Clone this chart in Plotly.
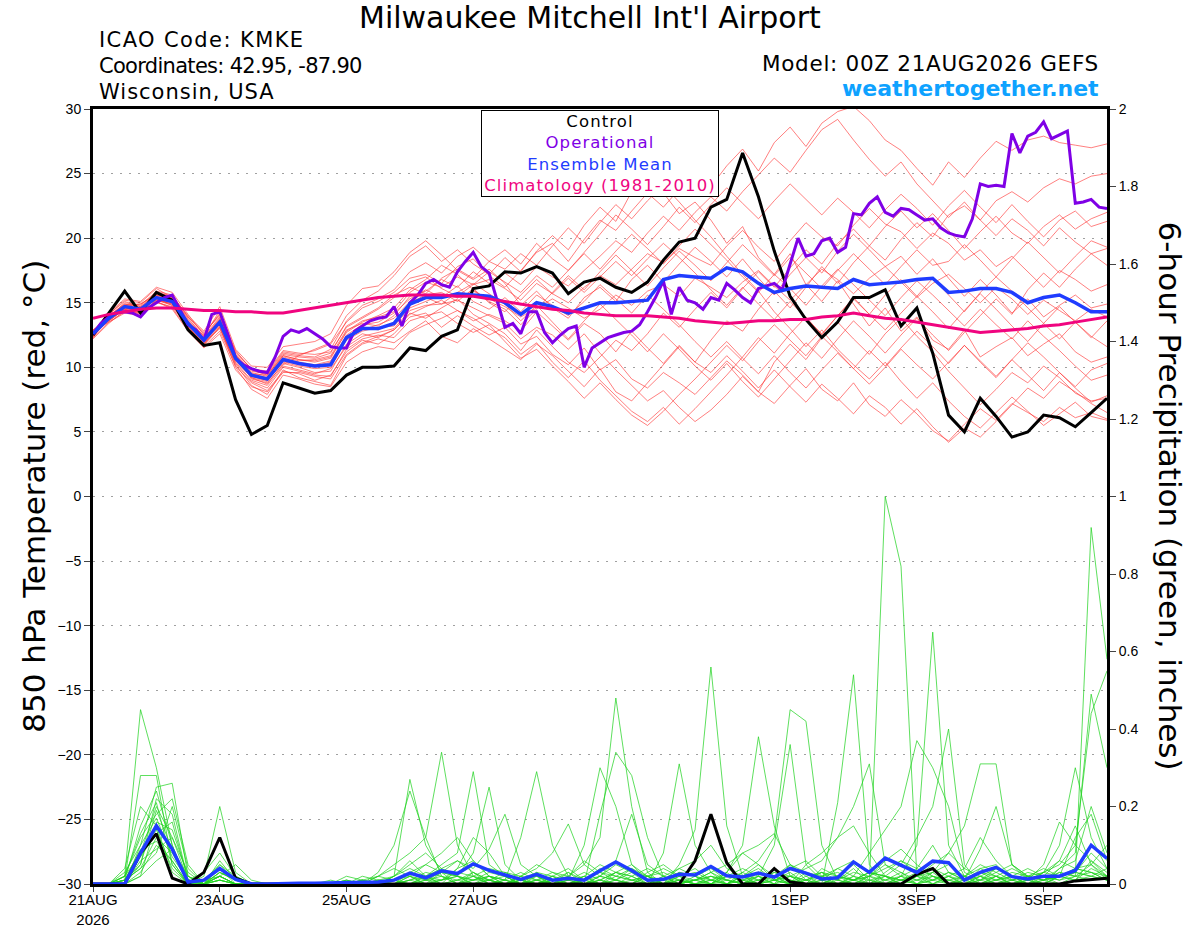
import plotly.graph_objects as go

# forecast hours (6-hourly ensemble, 3-hourly operational run)
hours = list(range(0, 385, 6))
hours_op = list(range(0, 385, 3))

tick_hours = [0, 48, 96, 144, 192, 264, 312, 360]
tick_text = ["21AUG<br>2026", "23AUG", "25AUG", "27AUG", "29AUG", "1SEP", "3SEP", "5SEP"]

# 850 hPa temperature (C)
t_control = [
    12.5, 14.2, 15.9, 14.2, 15.8, 15.2, 12.9, 11.7, 11.9, 7.5, 4.8, 5.5, 8.8,
    8.4, 8.0, 8.2, 9.4, 10.0, 10.0, 10.1, 11.5, 11.3, 12.4, 12.9, 16.1, 16.3,
    17.4, 17.3, 17.8, 17.3, 15.7, 16.6, 16.9, 16.2, 15.8, 16.6, 18.3, 19.7, 20.0,
    22.4, 23.0, 26.6, 23.2, 19.0, 15.5, 13.7, 12.3, 13.5, 15.4, 15.4, 16.0, 13.2,
    14.6, 11.1, 6.3, 5.0, 7.6, 6.2, 4.6, 5.0, 6.3, 6.1, 5.4, 6.5, 7.6,
]
t_operational = [
    12.6, 13.4, 13.9, 14.2, 14.3, 14.2, 13.9, 14.6, 15.0, 15.4,
    15.6, 14.4, 13.3, 12.9, 12.1, 14.1, 14.3, 12.6, 10.7, 10.2,
    9.9, 9.7, 9.6, 10.8, 12.4, 12.9, 12.7, 13.0, 12.6, 12.2,
    11.6, 11.5, 11.5, 12.8, 13.2, 13.6, 13.8, 13.9, 14.7, 13.2,
    15.0, 15.6, 16.5, 16.8, 16.4, 16.2, 17.4, 18.2, 18.9, 17.8,
    17.3, 15.2, 13.1, 13.4, 12.6, 14.3, 14.3, 12.7, 11.9, 12.5,
    13.0, 13.2, 10.0, 11.5, 11.9, 12.3, 12.5, 12.7, 12.8, 13.3,
    14.3, 15.4, 16.7, 14.1, 16.2, 15.2, 15.0, 14.5, 15.4, 15.2,
    16.5, 16.0, 15.4, 15.0, 16.1, 16.3, 16.5, 16.0, 18.0, 20.0,
    18.6, 18.8, 19.8, 20.0, 18.9, 19.3, 21.9, 21.8, 22.7, 23.2,
    22.0, 21.7, 22.3, 22.2, 21.8, 21.4, 21.5, 20.8, 20.4, 20.2,
    20.1, 21.5, 24.2, 24.0, 24.1, 24.0, 28.1, 26.6, 27.9, 28.2,
    29.0, 27.7, 28.0, 28.3, 22.7, 22.8, 23.0, 22.4, 22.3,
]
t_mean = [
    12.6, 13.8, 14.7, 14.5, 15.4, 15.1, 13.4, 12.1, 13.5, 10.7, 9.4, 9.1, 10.6,
    10.3, 10.1, 10.2, 12.3, 13.0, 13.0, 13.4, 14.9, 15.4, 15.4, 15.7, 15.6, 15.5,
    15.0, 14.1, 15.0, 14.7, 14.2, 14.6, 15.0, 15.0, 15.1, 15.2, 16.8, 17.1, 17.0,
    16.9, 17.7, 17.4, 16.5, 15.8, 16.1, 16.3, 16.2, 16.1, 16.8, 16.4, 16.5, 16.6,
    16.8, 16.9, 15.8, 15.9, 16.1, 16.1, 15.8, 15.0, 15.4, 15.6, 15.0, 14.3, 14.3,
]
t_climo = [
    13.8, 14.1, 14.3, 14.5, 14.6, 14.6, 14.5, 14.4, 14.4, 14.3, 14.3, 14.2, 14.2,
    14.4, 14.6, 14.8, 15.0, 15.2, 15.4, 15.5, 15.6, 15.6, 15.6, 15.5, 15.5, 15.3,
    15.1, 14.9, 14.7, 14.5, 14.4, 14.2, 14.1, 14.0, 14.0, 14.0, 13.9, 13.8, 13.6,
    13.5, 13.4, 13.5, 13.6, 13.6, 13.7, 13.7, 13.9, 14.0, 14.2, 14.0, 13.8, 13.7,
    13.5, 13.3, 13.1, 12.9, 12.7, 12.8, 12.9, 13.0, 13.2, 13.3, 13.5, 13.7, 13.9,
]

# ensemble members, 850 hPa temperature
t_mem01 = [
    12.4, 13.9, 15.0, 14.8, 15.9, 15.6, 13.9, 12.6, 14.1, 11.2, 9.9, 9.6, 11.2,
    11.0, 11.3, 11.8, 13.5, 14.6, 15.1, 15.8, 16.9, 17.2, 16.5, 17.8, 18.4, 17.1,
    16.2, 17.5, 18.9, 19.6, 18.2, 19.9, 21.4, 20.6, 22.1, 23.5, 22.4, 23.8, 25.1,
    24.0, 25.6, 26.9, 25.2, 27.4, 28.6, 27.1, 28.9, 29.8, 30.2, 29.1, 27.6, 26.8,
    25.4, 24.1, 25.9, 24.7, 26.2, 27.5, 26.8, 27.6, 27.9, 27.4, 27.2, 27.0, 27.3,
]
t_mem02 = [
    12.8, 13.5, 14.2, 14.0, 15.1, 14.6, 12.9, 11.6, 12.8, 10.1, 8.8, 8.2, 9.7,
    9.5, 9.0, 9.4, 11.2, 12.1, 11.8, 12.6, 13.9, 14.2, 13.1, 14.0, 13.2, 12.5,
    13.1, 11.8, 12.4, 11.0, 10.2, 11.5, 9.8, 10.6, 9.1, 8.4, 9.6, 8.8, 7.9,
    9.2, 10.5, 9.4, 8.1, 7.2, 8.6, 9.9, 8.3, 7.4, 8.8, 7.1, 6.2, 7.5,
    6.4, 5.1, 4.3, 5.6, 6.8, 5.9, 7.2, 6.5, 5.8, 6.9, 6.1, 6.5, 6.0,
]
t_mem03 = [
    12.3, 14.1, 15.2, 15.0, 16.1, 15.4, 13.8, 12.4, 14.4, 11.0, 9.1, 8.8, 10.2,
    10.9, 11.4, 11.9, 14.0, 15.2, 15.9, 17.1, 18.6, 19.4, 18.2, 19.1, 18.0, 17.2,
    18.5, 17.4, 19.0, 20.2, 19.1, 21.0, 22.4, 21.3, 23.6, 24.8, 23.5, 21.9, 22.8,
    21.4, 19.6, 20.9, 18.5, 17.2, 18.8, 16.4, 15.1, 16.7, 14.9, 13.2, 14.6, 12.8,
    13.9, 12.1, 11.4, 12.9, 10.8, 11.6, 12.3, 10.9, 11.8, 12.6, 11.2, 10.4, 10.8,
]
t_mem04 = [
    12.9, 13.6, 14.5, 14.1, 15.2, 14.9, 13.0, 11.8, 13.2, 10.2, 8.6, 7.9, 9.8,
    9.2, 8.9, 8.6, 10.9, 11.8, 12.2, 11.9, 12.8, 13.6, 12.4, 11.9, 13.0, 12.2,
    11.4, 10.6, 11.8, 10.9, 9.7, 8.5, 9.9, 8.1, 7.4, 8.8, 10.2, 11.6, 10.4,
    12.1, 13.6, 12.8, 14.5, 15.9, 14.6, 16.2, 17.8, 16.5, 18.1, 19.4, 18.3, 19.9,
    21.2, 20.1, 21.8, 22.5, 21.4, 22.9, 23.6, 22.8, 23.9, 24.6, 24.2, 24.8, 25.0,
]
t_mem05 = [
    12.6, 13.9, 14.9, 14.7, 15.6, 15.3, 13.6, 12.3, 13.8, 10.9, 9.6, 9.3, 10.9,
    10.6, 10.4, 10.7, 12.8, 13.6, 13.9, 14.3, 15.8, 16.6, 16.2, 17.0, 16.4, 16.8,
    16.1, 15.2, 16.5, 15.7, 15.0, 16.2, 17.1, 16.4, 17.6, 18.8, 18.1, 19.2, 18.5,
    17.9, 19.4, 20.6, 19.3, 18.2, 19.8, 21.2, 20.1, 19.4, 21.0, 22.3, 21.1, 20.5,
    19.2, 20.4, 19.6, 18.3, 19.1, 17.8, 18.6, 17.4, 16.2, 17.5, 16.8, 15.9, 16.4,
]
t_mem06 = [
    12.2, 13.4, 14.4, 14.3, 15.0, 14.7, 13.1, 11.9, 13.0, 10.4, 9.0, 8.6, 10.1,
    9.8, 9.5, 9.9, 11.6, 12.4, 12.7, 13.0, 14.4, 14.8, 14.9, 15.2, 14.6, 14.0,
    13.4, 12.2, 13.1, 12.5, 11.4, 12.6, 11.1, 9.8, 8.6, 7.4, 8.2, 6.9, 5.8,
    6.7, 7.9, 9.3, 8.1, 10.4, 11.8, 10.6, 12.3, 13.5, 12.2, 11.0, 12.6, 13.8,
    12.4, 11.2, 9.7, 8.4, 7.1, 8.3, 9.6, 8.8, 10.1, 9.2, 8.0, 7.4, 7.6,
]
t_mem07 = [
    12.5, 14.0, 14.8, 14.9, 15.7, 15.5, 14.0, 12.8, 14.7, 11.4, 10.1, 10.0, 11.6,
    11.8, 12.0, 12.6, 14.8, 16.1, 16.3, 17.4, 18.9, 19.8, 18.7, 17.5, 16.8, 17.6,
    16.5, 14.8, 15.9, 14.6, 13.8, 15.4, 16.2, 15.1, 16.8, 17.9, 16.6, 18.0, 19.3,
    18.2, 17.0, 18.4, 16.9, 15.6, 17.2, 18.5, 17.3, 19.0, 20.3, 19.1, 17.8, 18.6,
    17.2, 18.4, 16.9, 15.5, 16.8, 15.6, 14.2, 15.3, 13.9, 14.8, 15.6, 14.6, 14.9,
]
t_mem08 = [
    12.7, 13.7, 14.6, 14.4, 15.3, 14.8, 13.2, 11.7, 13.1, 10.0, 8.3, 7.6, 9.4,
    9.1, 8.7, 8.5, 10.4, 11.2, 11.6, 11.4, 12.7, 13.3, 13.8, 14.4, 13.6, 14.1,
    13.6, 12.8, 14.3, 13.2, 12.1, 13.4, 12.6, 11.2, 12.8, 11.5, 10.3, 11.7, 10.4,
    9.6, 10.9, 9.7, 8.4, 9.8, 8.5, 7.3, 8.7, 7.6, 6.4, 7.8, 6.9, 5.6,
    6.8, 5.4, 4.2, 5.3, 4.6, 5.8, 7.1, 8.4, 7.6, 8.9, 8.1, 7.2, 6.5,
]
t_mem09 = [
    12.4, 13.8, 14.6, 14.6, 15.5, 15.0, 13.3, 12.2, 13.6, 10.8, 9.5, 9.2, 10.8,
    10.5, 10.6, 10.9, 12.9, 13.4, 13.2, 14.0, 15.5, 15.9, 16.8, 16.2, 17.4, 16.5,
    17.3, 16.4, 17.8, 17.0, 16.3, 17.5, 18.6, 19.8, 18.9, 20.4, 21.7, 20.6, 22.0,
    23.2, 22.1, 23.6, 24.9, 26.2, 25.1, 26.8, 28.4, 29.2, 27.6, 26.1, 24.8, 25.9,
    24.2, 22.9, 21.6, 22.8, 21.4, 20.2, 21.5, 20.6, 19.4, 20.8, 19.7, 18.8, 19.2,
]
t_mem10 = [
    12.6, 13.7, 14.7, 14.4, 15.4, 15.2, 13.5, 12.0, 13.4, 10.6, 9.3, 9.0, 10.5,
    10.2, 10.0, 10.3, 12.1, 12.8, 13.1, 13.2, 14.6, 15.1, 15.6, 15.4, 15.9, 15.3,
    14.7, 13.9, 14.6, 15.3, 14.6, 13.8, 14.5, 15.6, 14.8, 15.9, 16.4, 15.5, 16.9,
    16.2, 15.4, 16.6, 17.5, 16.3, 15.2, 16.4, 17.6, 16.8, 15.7, 16.9, 17.8, 16.6,
    15.4, 16.5, 17.2, 16.1, 15.0, 16.2, 15.3, 14.1, 15.2, 14.4, 13.6, 14.5, 13.9,
]
t_mem11 = [
    12.3, 13.5, 14.3, 14.2, 15.1, 14.5, 12.8, 11.5, 12.6, 9.8, 8.5, 8.1, 9.6,
    9.6, 9.3, 9.1, 11.0, 11.9, 12.4, 12.9, 14.2, 13.8, 14.6, 15.3, 14.1, 13.4,
    12.6, 11.3, 12.9, 11.6, 10.4, 9.6, 10.8, 12.1, 11.3, 12.6, 14.2, 13.1, 14.5,
    15.8, 14.6, 16.1, 17.4, 16.2, 17.7, 19.1, 18.0, 19.6, 20.7, 19.4, 20.9, 22.1,
    20.8, 21.9, 20.6, 19.2, 20.5, 21.7, 20.4, 19.6, 20.9, 21.8, 20.7, 21.5, 22.0,
]
t_mem12 = [
    12.8, 14.2, 15.3, 15.1, 16.2, 15.8, 14.1, 12.5, 14.2, 11.3, 9.8, 9.4, 11.0,
    10.8, 10.7, 11.1, 13.2, 13.9, 14.6, 15.6, 16.2, 15.7, 16.9, 17.6, 16.9, 18.2,
    17.6, 18.8, 17.9, 19.4, 20.8, 19.6, 21.2, 22.6, 21.5, 22.9, 24.1, 22.8, 21.4,
    20.1, 18.6, 17.2, 15.9, 14.3, 13.0, 11.6, 12.9, 11.4, 10.2, 9.1, 10.4, 8.9,
    7.6, 8.8, 7.4, 6.2, 5.3, 6.5, 7.7, 6.6, 5.5, 6.4, 7.3, 6.2, 5.9,
]
t_mem13 = [
    12.5, 13.6, 14.5, 14.6, 15.2, 15.0, 13.3, 11.9, 13.3, 10.5, 9.2, 8.7, 10.3,
    10.0, 9.6, 9.7, 11.8, 12.6, 12.3, 12.9, 14.1, 14.7, 15.2, 14.4, 13.8, 13.0,
    12.3, 11.0, 11.9, 10.4, 9.2, 10.5, 9.0, 7.8, 6.6, 5.8, 6.9, 5.6, 6.8,
    8.1, 9.4, 10.8, 12.3, 11.1, 12.6, 13.9, 12.5, 14.0, 15.4, 14.1, 15.6, 16.8,
    15.5, 16.9, 15.6, 14.3, 15.8, 17.0, 15.9, 14.6, 13.4, 12.2, 13.5, 12.4, 11.6,
]
t_mem14 = [
    12.7, 14.0, 14.9, 14.6, 15.6, 15.4, 13.7, 12.4, 13.9, 11.0, 9.7, 9.5, 11.1,
    10.9, 10.8, 11.4, 13.6, 14.8, 15.3, 16.0, 17.4, 18.1, 17.3, 18.6, 19.3, 18.2,
    19.1, 18.0, 19.6, 18.4, 17.5, 18.9, 20.3, 21.8, 20.7, 19.5, 20.9, 22.4, 21.2,
    22.6, 23.9, 22.7, 21.5, 22.9, 24.2, 23.0, 21.8, 23.1, 22.0, 20.8, 22.2, 23.4,
    22.3, 21.0, 22.5, 23.7, 22.4, 21.2, 22.6, 21.3, 20.1, 21.4, 22.1, 20.9, 21.3,
]
t_mem15 = [
    12.4, 13.7, 14.6, 14.3, 15.3, 14.9, 13.2, 12.1, 13.5, 10.6, 9.2, 8.9, 10.4,
    10.1, 9.9, 10.0, 12.2, 12.9, 13.3, 13.8, 15.1, 15.4, 14.9, 15.8, 16.5, 15.7,
    14.9, 13.6, 14.8, 13.5, 12.2, 13.6, 14.9, 13.7, 12.5, 11.2, 12.6, 11.4, 10.1,
    9.0, 10.3, 8.9, 7.7, 9.1, 10.5, 11.9, 10.7, 12.2, 13.6, 12.4, 11.1, 12.5,
    13.8, 12.5, 11.3, 12.7, 14.0, 15.3, 14.1, 16.0, 17.3, 16.2, 17.6, 18.8, 17.9,
]
t_mem16 = [
    12.6, 14.1, 15.1, 14.7, 15.8, 15.5, 13.9, 12.7, 14.0, 11.1, 9.9, 9.7, 11.3,
    11.1, 11.0, 11.2, 13.1, 13.8, 14.5, 15.4, 16.6, 17.0, 16.1, 15.5, 16.4, 17.4,
    16.6, 15.8, 17.1, 16.2, 17.5, 18.8, 17.6, 19.0, 20.3, 19.2, 18.0, 19.4, 20.7,
    19.5, 18.3, 17.0, 15.8, 17.2, 16.1, 14.8, 16.3, 17.6, 16.4, 15.2, 14.0, 15.4,
    16.7, 15.6, 14.4, 13.2, 14.5, 13.3, 12.2, 13.6, 12.4, 11.3, 10.1, 9.0, 9.4,
]
t_mem17 = [
    12.9, 13.8, 14.8, 14.5, 15.5, 15.1, 13.4, 12.2, 13.7, 10.8, 9.4, 9.1, 10.7,
    10.4, 10.2, 10.5, 12.5, 13.3, 13.5, 14.2, 15.3, 16.0, 15.4, 16.3, 15.1, 14.5,
    15.4, 14.3, 15.6, 14.8, 14.0, 15.1, 16.4, 15.3, 14.2, 15.6, 14.5, 13.3, 12.0,
    10.8, 12.0, 10.7, 9.5, 10.9, 9.6, 8.4, 9.8, 11.1, 9.9, 8.7, 10.0, 11.4,
    10.2, 9.1, 10.4, 11.7, 10.5, 9.3, 10.6, 11.9, 10.8, 9.6, 8.5, 9.8, 10.3,
]
t_mem18 = [
    12.3, 13.9, 14.8, 14.9, 15.6, 15.1, 13.5, 12.3, 13.7, 10.9, 9.5, 9.4, 10.9,
    10.6, 10.5, 10.8, 12.7, 13.5, 14.0, 14.6, 16.0, 16.8, 17.9, 17.2, 16.0, 15.1,
    14.5, 13.3, 14.5, 15.8, 17.1, 16.0, 17.4, 18.7, 17.5, 16.3, 17.7, 19.0, 17.9,
    16.7, 18.1, 19.5, 18.3, 17.1, 18.5, 17.3, 16.1, 17.5, 18.8, 17.6, 16.4, 17.8,
    19.1, 17.9, 18.2, 19.5, 18.3, 17.0, 18.4, 19.7, 18.5, 17.3, 18.6, 19.8, 19.3,
]
t_mem19 = [
    12.6, 13.6, 14.5, 14.2, 15.2, 14.8, 13.1, 11.8, 13.1, 10.3, 8.9, 8.4, 10.0,
    9.7, 9.4, 9.3, 11.4, 12.2, 12.5, 12.3, 13.6, 14.0, 14.3, 13.4, 12.7, 13.3,
    12.0, 10.7, 11.4, 10.1, 8.9, 7.6, 8.8, 7.5, 6.3, 5.5, 6.6, 7.9, 9.1,
    10.4, 11.7, 10.5, 12.0, 13.3, 12.1, 10.9, 12.4, 11.2, 9.9, 11.3, 10.1, 11.5,
    12.8, 11.6, 10.3, 11.7, 10.4, 9.2, 10.6, 9.4, 8.2, 9.6, 8.4, 7.3, 7.8,
]
t_mem20 = [
    12.5, 13.8, 14.7, 14.5, 15.4, 15.2, 13.6, 12.1, 13.6, 10.7, 9.3, 9.0, 10.6,
    10.3, 10.1, 10.4, 12.4, 13.1, 12.9, 13.5, 15.0, 15.6, 15.8, 15.1, 16.1, 15.0,
    14.3, 15.6, 16.8, 15.7, 16.9, 15.8, 17.0, 18.2, 17.1, 18.4, 19.6, 18.5, 17.3,
    16.0, 14.8, 16.2, 14.9, 13.7, 15.1, 13.8, 12.6, 14.0, 15.3, 14.1, 12.9, 14.2,
    15.5, 14.3, 13.0, 14.4, 15.7, 14.5, 13.2, 12.0, 13.4, 14.7, 13.5, 12.3, 13.6,
]

# 6-hour precipitation (inches)
p_control = [
    0, 0, 0, 0.08, 0.13, 0.015, 0, 0.03, 0.12, 0.015, 0, 0, 0,
    0, 0, 0, 0, 0, 0, 0, 0, 0, 0, 0, 0, 0,
    0, 0, 0, 0, 0, 0, 0, 0, 0, 0, 0, 0, 0.06,
    0.18, 0.055, 0, 0, 0.04, 0.005, 0, 0, 0, 0, 0, 0, 0,
    0.025, 0.04, 0, 0, 0, 0, 0, 0, 0, 0, 0.008, 0.012, 0.015,
]
p_mean = [
    0, 0, 0, 0.08, 0.15, 0.09, 0.005, 0.01, 0.04, 0.012, 0, 0, 0.002,
    0.002, 0.002, 0.003, 0.004, 0.003, 0.005, 0.01, 0.028, 0.016, 0.034, 0.027, 0.052, 0.035,
    0.023, 0.012, 0.025, 0.01, 0.015, 0.01, 0.034, 0.057, 0.035, 0.01, 0.012, 0.025, 0.023,
    0.045, 0.021, 0.018, 0.028, 0.018, 0.04, 0.028, 0.013, 0.016, 0.057, 0.03, 0.067, 0.049,
    0.03, 0.059, 0.055, 0.01, 0.03, 0.043, 0.019, 0.013, 0.02, 0.02, 0.035, 0.1, 0.066,
]

# ensemble members, precipitation
p_mem01 = [
    0, 0, 0.02, 0.45, 0.30, 0.10, 0, 0.01, 0.05, 0.01, 0, 0, 0,
    0, 0, 0, 0, 0, 0, 0.02, 0.27, 0.10, 0.03, 0, 0.01, 0.02,
    0, 0.01, 0, 0, 0.02, 0.05, 0.12, 0.48, 0.20, 0.03, 0, 0.01, 0,
    0, 0, 0.02, 0.05, 0.01, 0, 0.03, 0.02, 0.01, 0.04, 0, 1.00, 0.82,
    0.02, 0.03, 0, 0, 0.01, 0.04, 0.02, 0, 0.01, 0.03, 0.02, 0.92, 0.58,
]
p_mem02 = [
    0, 0, 0.01, 0.28, 0.28, 0.05, 0, 0.02, 0.20, 0.03, 0, 0, 0,
    0, 0, 0, 0.01, 0, 0.02, 0.05, 0.08, 0.12, 0.34, 0.10, 0.02, 0,
    0.01, 0, 0.03, 0, 0, 0.02, 0, 0.01, 0.04, 0.02, 0, 0.05, 0.14,
    0.56, 0.15, 0.02, 0, 0.01, 0.03, 0, 0, 0.02, 0.05, 0.01, 0, 0.02,
    0.10, 0.65, 0.10, 0.02, 0, 0.01, 0.03, 0.02, 0, 0.04, 0.08, 0.49, 0.30,
]
p_mem03 = [
    0, 0, 0.03, 0.10, 0.25, 0.26, 0.02, 0, 0.06, 0.01, 0, 0, 0,
    0, 0, 0, 0, 0.01, 0, 0.02, 0.04, 0.02, 0.05, 0.08, 0.29, 0.05,
    0.02, 0, 0.01, 0, 0.03, 0, 0.02, 0.05, 0.03, 0, 0.08, 0.31, 0.10,
    0.03, 0, 0.01, 0.02, 0, 0.05, 0.02, 0, 0.21, 0.54, 0.05, 0, 0.01,
    0.03, 0, 0.02, 0, 0.04, 0.02, 0, 0.01, 0.03, 0.05, 0.10, 0.44, 0.55,
]
p_mem04 = [
    0, 0, 0, 0.05, 0.22, 0.18, 0.01, 0, 0.04, 0, 0, 0, 0,
    0, 0, 0.01, 0, 0, 0.03, 0.10, 0.24, 0.12, 0.02, 0, 0.03, 0.01,
    0, 0.02, 0, 0.01, 0, 0, 0.18, 0.34, 0.28, 0.12, 0.02, 0, 0.01,
    0.02, 0, 0.03, 0.06, 0.12, 0.45, 0.42, 0.10, 0.01, 0, 0.02, 0.05, 0.03,
    0, 0.01, 0.03, 0.02, 0.04, 0.05, 0.01, 0, 0, 0.02, 0.03, 0.02, 0.01,
]
p_mem05 = [
    0, 0, 0.01, 0.15, 0.24, 0.10, 0, 0.01, 0.02, 0.05, 0.01, 0, 0,
    0, 0, 0, 0.02, 0.01, 0, 0, 0.02, 0.05, 0.03, 0.02, 0.08, 0.25,
    0.05, 0.01, 0, 0.02, 0.04, 0.01, 0, 0.03, 0.02, 0, 0.01, 0.04, 0.02,
    0, 0.03, 0.10, 0.38, 0.15, 0.02, 0, 0.04, 0.02, 0.01, 0.03, 0.02, 0.05,
    0.12, 0.20, 0.40, 0.05, 0, 0.02, 0.04, 0.02, 0.03, 0.10, 0.30, 0.12, 0.04,
]
p_mem06 = [
    0, 0, 0, 0.08, 0.20, 0.12, 0.01, 0.03, 0.08, 0.02, 0, 0, 0,
    0, 0, 0, 0, 0.02, 0.01, 0, 0.03, 0.01, 0, 0.04, 0.06, 0.02,
    0.01, 0.12, 0.29, 0.10, 0.02, 0, 0.01, 0.03, 0.05, 0.02, 0, 0.02, 0.04,
    0.01, 0.03, 0, 0.02, 0.10, 0.36, 0.05, 0.01, 0, 0.02, 0.08, 0.14, 0.20,
    0.37, 0.30, 0.20, 0.03, 0.01, 0, 0.02, 0.01, 0.05, 0.16, 0.10, 0.06, 0.02,
]
p_mem07 = [
    0, 0, 0.02, 0.12, 0.18, 0.22, 0.05, 0, 0.03, 0.01, 0, 0, 0,
    0, 0, 0, 0.01, 0, 0.02, 0.04, 0.02, 0, 0.03, 0.06, 0.04, 0.09,
    0.18, 0.05, 0.02, 0, 0.01, 0.10, 0.30, 0.20, 0.05, 0.01, 0, 0.03, 0.02,
    0.04, 0.01, 0, 0.03, 0.02, 0, 0.05, 0.08, 0.12, 0.20, 0.31, 0.05, 0.02,
    0, 0.03, 0.08, 0.15, 0.31, 0.31, 0.05, 0.01, 0, 0.02, 0.04, 0.03, 0.01,
]
p_mem08 = [
    0, 0, 0, 0.02, 0.16, 0.14, 0.02, 0, 0.05, 0.02, 0, 0, 0,
    0, 0, 0, 0, 0, 0.01, 0.02, 0.05, 0.08, 0.04, 0.02, 0, 0.01,
    0.03, 0.02, 0.04, 0.08, 0.155, 0.05, 0.02, 0.06, 0.18, 0.05, 0.02, 0, 0.01,
    0.03, 0.05, 0.08, 0.10, 0.13, 0.05, 0.01, 0, 0.02, 0.01, 0, 0.03, 0.06,
    0.04, 0.10, 0.03, 0.01, 0.09, 0.20, 0.05, 0.02, 0.01, 0.04, 0.06, 0.20, 0.08,
]
p_mem09 = [
    0, 0, 0.04, 0.20, 0.15, 0.03, 0, 0, 0.02, 0, 0, 0, 0,
    0, 0, 0, 0, 0, 0, 0.01, 0.03, 0.05, 0.08, 0.12, 0.06, 0.02,
    0, 0.01, 0.03, 0.02, 0, 0.01, 0.04, 0.02, 0.01, 0, 0.02, 0.04, 0.06,
    0.10, 0.04, 0.02, 0, 0.01, 0.02, 0.04, 0.06, 0.12, 0.15, 0.08, 0.02, 0,
    0.02, 0.05, 0.08, 0.04, 0.12, 0.06, 0.02, 0, 0.03, 0.06, 0.04, 0.05, 0.10,
]
p_mem10 = [
    0, 0, 0.01, 0.04, 0.12, 0.08, 0.01, 0, 0.03, 0.01, 0, 0, 0,
    0, 0, 0, 0, 0.01, 0.02, 0.01, 0, 0.02, 0.01, 0.04, 0.12, 0.08,
    0.02, 0, 0.01, 0.03, 0.02, 0.06, 0.03, 0.01, 0, 0.02, 0.04, 0.02, 0.01,
    0, 0.03, 0.08, 0.05, 0.02, 0, 0.01, 0.03, 0.02, 0, 0.02, 0.06, 0.09,
    0.05, 0.02, 0, 0.01, 0.03, 0.02, 0, 0.02, 0.04, 0.02, 0.12, 0.18, 0.06,
]
p_mem11 = [
    0, 0, 0, 0.03, 0.10, 0.06, 0, 0, 0.02, 0, 0, 0, 0,
    0, 0, 0, 0, 0, 0, 0, 0.01, 0.03, 0.02, 0, 0.02, 0.04,
    0.03, 0.01, 0, 0, 0.01, 0.02, 0, 0, 0.02, 0.04, 0.02, 0, 0.01,
    0.02, 0.01, 0, 0.01, 0.03, 0.02, 0, 0.01, 0.04, 0.06, 0.03, 0.01, 0,
    0.01, 0.03, 0.05, 0.02, 0, 0.01, 0.02, 0.04, 0.02, 0.01, 0.03, 0.08, 0.04,
]
p_mem12 = [
    0, 0, 0.02, 0.08, 0.14, 0.04, 0, 0.01, 0.04, 0.01, 0, 0, 0,
    0, 0, 0, 0.01, 0, 0, 0.02, 0.06, 0.02, 0, 0.01, 0.03, 0.01,
    0, 0.02, 0.05, 0.03, 0.01, 0, 0.02, 0.01, 0, 0.03, 0.05, 0.02, 0,
    0.01, 0, 0.02, 0.04, 0.01, 0, 0.02, 0.03, 0, 0.01, 0.02, 0.04, 0.06,
    0.03, 0.01, 0, 0.02, 0.05, 0.03, 0.01, 0, 0.02, 0.06, 0.15, 0.05, 0.02,
]
p_mem13 = [
    0, 0, 0, 0.06, 0.09, 0.12, 0.03, 0, 0.01, 0, 0, 0, 0,
    0, 0, 0, 0, 0.01, 0, 0, 0.02, 0.01, 0.03, 0.02, 0, 0.01,
    0.02, 0, 0.01, 0.02, 0, 0.01, 0.03, 0.02, 0.01, 0, 0, 0.02, 0.03,
    0.01, 0.02, 0.04, 0.02, 0, 0.01, 0, 0.02, 0.03, 0.01, 0, 0.02, 0.01,
    0, 0.02, 0.01, 0, 0.02, 0.04, 0.02, 0.01, 0, 0.02, 0.01, 0.04, 0.02,
]
p_mem14 = [
    0, 0, 0.01, 0.05, 0.19, 0.09, 0, 0, 0.02, 0, 0, 0, 0,
    0, 0, 0, 0, 0, 0.01, 0.01, 0, 0.02, 0.04, 0.06, 0.03, 0,
    0.01, 0.03, 0.01, 0, 0, 0.02, 0.05, 0.03, 0.01, 0.02, 0, 0, 0.01,
    0.03, 0.01, 0, 0.01, 0.02, 0.04, 0.06, 0.02, 0, 0.01, 0.03, 0.02, 0,
    0.02, 0.04, 0.02, 0, 0.01, 0.03, 0.05, 0.02, 0.01, 0, 0.02, 0.03, 0.01,
]
p_mem15 = [
    0, 0, 0, 0.10, 0.17, 0.07, 0.01, 0, 0.01, 0, 0, 0, 0,
    0, 0, 0, 0, 0, 0, 0, 0.01, 0, 0.01, 0.02, 0.01, 0.03,
    0.02, 0, 0, 0.01, 0.03, 0.01, 0, 0.02, 0.04, 0.01, 0, 0.01, 0,
    0, 0.02, 0.01, 0, 0.02, 0.05, 0.03, 0.01, 0, 0.02, 0.01, 0, 0.02,
    0.04, 0.02, 0, 0.01, 0.02, 0, 0.01, 0.02, 0.01, 0.03, 0.02, 0.01, 0.02,
]
p_mem16 = [
    0, 0, 0.01, 0.04, 0.08, 0.20, 0.04, 0, 0.03, 0.01, 0, 0, 0,
    0, 0, 0, 0, 0, 0, 0, 0, 0.01, 0.02, 0.01, 0, 0.02,
    0.01, 0, 0.02, 0.01, 0, 0, 0.01, 0.03, 0.02, 0, 0.01, 0.03, 0.02,
    0, 0.01, 0.03, 0.01, 0, 0.02, 0.01, 0, 0.01, 0.03, 0.02, 0, 0.01,
    0.02, 0.01, 0.03, 0.01, 0, 0.02, 0.01, 0.03, 0.02, 0, 0.01, 0.06, 0.03,
]
p_mem17 = [
    0, 0, 0, 0.07, 0.13, 0.16, 0.01, 0, 0.02, 0, 0, 0, 0,
    0, 0, 0, 0, 0, 0, 0.01, 0.02, 0, 0, 0.01, 0.02, 0.01,
    0, 0.01, 0.02, 0, 0.01, 0.03, 0.01, 0, 0, 0.02, 0.03, 0.01, 0,
    0.02, 0.01, 0, 0.02, 0.01, 0, 0.01, 0.02, 0.04, 0.02, 0, 0.01, 0.03,
    0.01, 0, 0.02, 0.04, 0.02, 0, 0.01, 0.02, 0.01, 0.02, 0.04, 0.03, 0.02,
]
p_mem18 = [
    0, 0, 0.02, 0.13, 0.21, 0.05, 0, 0, 0.01, 0, 0, 0, 0,
    0, 0, 0, 0, 0, 0, 0, 0, 0.01, 0.01, 0.03, 0.02, 0,
    0, 0.01, 0, 0.02, 0.01, 0, 0, 0.01, 0.03, 0.02, 0.01, 0, 0.02,
    0.01, 0, 0.01, 0.03, 0.02, 0.01, 0, 0, 0.02, 0.01, 0.03, 0.02, 0.01,
    0, 0.01, 0.02, 0.01, 0.03, 0.01, 0, 0.01, 0.02, 0.01, 0.02, 0.05, 0.01,
]
p_mem19 = [
    0, 0, 0, 0.02, 0.06, 0.09, 0.02, 0, 0.01, 0, 0, 0, 0,
    0, 0, 0, 0, 0, 0.01, 0, 0.01, 0.02, 0, 0, 0.01, 0.02,
    0.01, 0, 0, 0.01, 0.02, 0, 0.01, 0, 0.01, 0.02, 0, 0.01, 0.01,
    0, 0.02, 0.01, 0, 0.01, 0.02, 0.01, 0.03, 0.01, 0, 0.01, 0.02, 0.01,
    0.02, 0, 0.01, 0.02, 0.01, 0.02, 0, 0.01, 0.03, 0.02, 0.01, 0.02, 0.01,
]
p_mem20 = [
    0, 0, 0.01, 0.09, 0.11, 0.06, 0, 0, 0.02, 0, 0, 0, 0,
    0, 0, 0, 0, 0.01, 0, 0, 0, 0, 0.01, 0.02, 0.01, 0.01,
    0, 0.02, 0.01, 0, 0, 0.01, 0.02, 0.01, 0, 0, 0.02, 0.01, 0,
    0.01, 0, 0.02, 0.01, 0.03, 0.01, 0, 0.01, 0.02, 0.01, 0.02, 0.01, 0.02,
    0.01, 0.02, 0.01, 0, 0.02, 0.01, 0.02, 0, 0.01, 0.02, 0.03, 0.02, 0.04,
]

t_members = [t_mem01, t_mem02, t_mem03, t_mem04, t_mem05, t_mem06, t_mem07,
             t_mem08, t_mem09, t_mem10, t_mem11, t_mem12, t_mem13, t_mem14,
             t_mem15, t_mem16, t_mem17, t_mem18, t_mem19, t_mem20]
p_members = [p_mem01, p_mem02, p_mem03, p_mem04, p_mem05, p_mem06, p_mem07,
             p_mem08, p_mem09, p_mem10, p_mem11, p_mem12, p_mem13, p_mem14,
             p_mem15, p_mem16, p_mem17, p_mem18, p_mem19, p_mem20]

for k, m in enumerate(t_members + p_members + [t_control, t_mean, t_climo, p_control, p_mean]):
    assert len(m) == len(hours), (k, len(m))
assert len(t_operational) == len(hours_op)

TICK_FONT = "Liberation Sans, Arial, Helvetica, sans-serif"
TEXT_FONT = "DejaVu Sans, Verdana, sans-serif"
OP_COLOR = "#7f00e6"
MEAN_COLOR = "#1f3cff"
CLIM_COLOR = "#f0047f"

fig = go.Figure()

for m in t_members:
    fig.add_trace(go.Scatter(x=hours, y=m, mode="lines",
                             line=dict(color="rgba(255,55,55,0.8)", width=0.8)))
for m in p_members:
    fig.add_trace(go.Scatter(x=hours, y=m, mode="lines", yaxis="y2",
                             line=dict(color="rgba(30,210,30,0.9)", width=0.8)))

fig.add_trace(go.Scatter(x=hours, y=p_control, mode="lines", yaxis="y2",
                         line=dict(color="black", width=3)))
fig.add_trace(go.Scatter(x=hours, y=p_mean, mode="lines", yaxis="y2",
                         line=dict(color=MEAN_COLOR, width=3.5)))
fig.add_trace(go.Scatter(x=hours, y=t_control, mode="lines",
                         line=dict(color="black", width=3)))
fig.add_trace(go.Scatter(x=hours_op, y=t_operational, mode="lines",
                         line=dict(color=OP_COLOR, width=3)))
fig.add_trace(go.Scatter(x=hours, y=t_mean, mode="lines",
                         line=dict(color=MEAN_COLOR, width=3.5)))
fig.add_trace(go.Scatter(x=hours, y=t_climo, mode="lines",
                         line=dict(color=CLIM_COLOR, width=3)))


def spaced(text, px, color=None):
    style = f"letter-spacing:{px}px"
    if color:
        style = f"color:{color};" + style
    return f"<span style='{style}'>{text}</span>"


legend_text = "<br>".join([
    spaced("Control", 1.1),
    spaced("Operational", 1.1, OP_COLOR),
    spaced("Ensemble Mean", 1.1, MEAN_COLOR),
    spaced("Climatology (1981-2010)", 1.1, CLIM_COLOR),
])

fig.update_layout(
    width=1200, height=927,
    margin=dict(l=93, r=93, t=109, b=43, autoexpand=False),
    paper_bgcolor="white", plot_bgcolor="white",
    showlegend=False,
    font=dict(family=TICK_FONT, color="black", size=14),
    xaxis=dict(range=[0, 384], tickvals=tick_hours, ticktext=tick_text,
               showgrid=False, zeroline=False, showline=True, linewidth=3,
               linecolor="black", mirror=True, ticks="outside", ticklen=5,
               tickwidth=1, tickfont=dict(size=15), automargin=False,
               ticklabelstandoff=-5),
    yaxis=dict(range=[-30, 30], dtick=5, showgrid=True, gridcolor="#a0a0a0",
               gridwidth=1, griddash="2px,7px", zeroline=False, showline=True,
               linewidth=3, linecolor="black", mirror=True, ticks="outside",
               ticklen=6, tickwidth=1, tickfont=dict(size=14), automargin=False),
    yaxis2=dict(range=[0, 2], dtick=0.2, overlaying="y", side="right",
                showgrid=False, zeroline=False, showline=True, linewidth=3,
                linecolor="black", ticks="outside", ticklen=6, tickwidth=1,
                tickfont=dict(size=14), automargin=False),
    annotations=[
        dict(text="Milwaukee Mitchell Int'l Airport", xref="paper", yref="paper",
             x=0.49, y=1.118, xanchor="center", yanchor="middle", showarrow=False,
             font=dict(size=30, family=TEXT_FONT)),
        dict(text=spaced("ICAO Code: KMKE", 1.4), xref="paper", yref="paper",
             x=0.004, y=1.089, xanchor="left", yanchor="middle", showarrow=False,
             font=dict(size=21, family=TEXT_FONT)),
        dict(text=spaced("Coordinates: 42.95, -87.90", -0.7), xref="paper",
             yref="paper", x=0.004, y=1.055, xanchor="left", yanchor="middle",
             showarrow=False, font=dict(size=21, family=TEXT_FONT)),
        dict(text=spaced("Wisconsin, USA", 1.0), xref="paper", yref="paper",
             x=0.004, y=1.022, xanchor="left", yanchor="middle", showarrow=False,
             font=dict(size=21, family=TEXT_FONT)),
        dict(text=spaced("Model: 00Z 21AUG2026 GEFS", 0.7), xref="paper",
             yref="paper", x=0.994, y=1.059, xanchor="right", yanchor="middle",
             showarrow=False, font=dict(size=21.5, family=TEXT_FONT)),
        dict(text="<b>weathertogether.net</b>", xref="paper", yref="paper", x=0.994,
             y=1.026, xanchor="right", yanchor="middle", showarrow=False,
             font=dict(size=22, color="#0ea2ff", family=TEXT_FONT)),
        dict(text=legend_text, xref="paper", yref="paper", x=0.5, y=0.999,
             xanchor="center", yanchor="top", showarrow=False, align="center",
             bgcolor="white", bordercolor="black", borderwidth=1, borderpad=1,
             width=234, font=dict(size=16.5, family=TEXT_FONT)),
        dict(text="850 hPa Temperature (red, °C)", xref="paper", yref="paper",
             x=-0.059, y=0.5, xanchor="center", yanchor="middle", textangle=-90,
             showarrow=False, font=dict(size=31, family=TEXT_FONT)),
        dict(text="6-hour Precipitation (green, inches)", xref="paper", yref="paper",
             x=1.063, y=0.5, xanchor="center", yanchor="middle", textangle=90,
             showarrow=False, font=dict(size=31, family=TEXT_FONT)),
    ],
)

# drop the default 8px page margin so the figure fills the window exactly
fig.write_html("out.html", config={"displayModeBar": False},
               post_script="document.body.style.margin = '0';")
